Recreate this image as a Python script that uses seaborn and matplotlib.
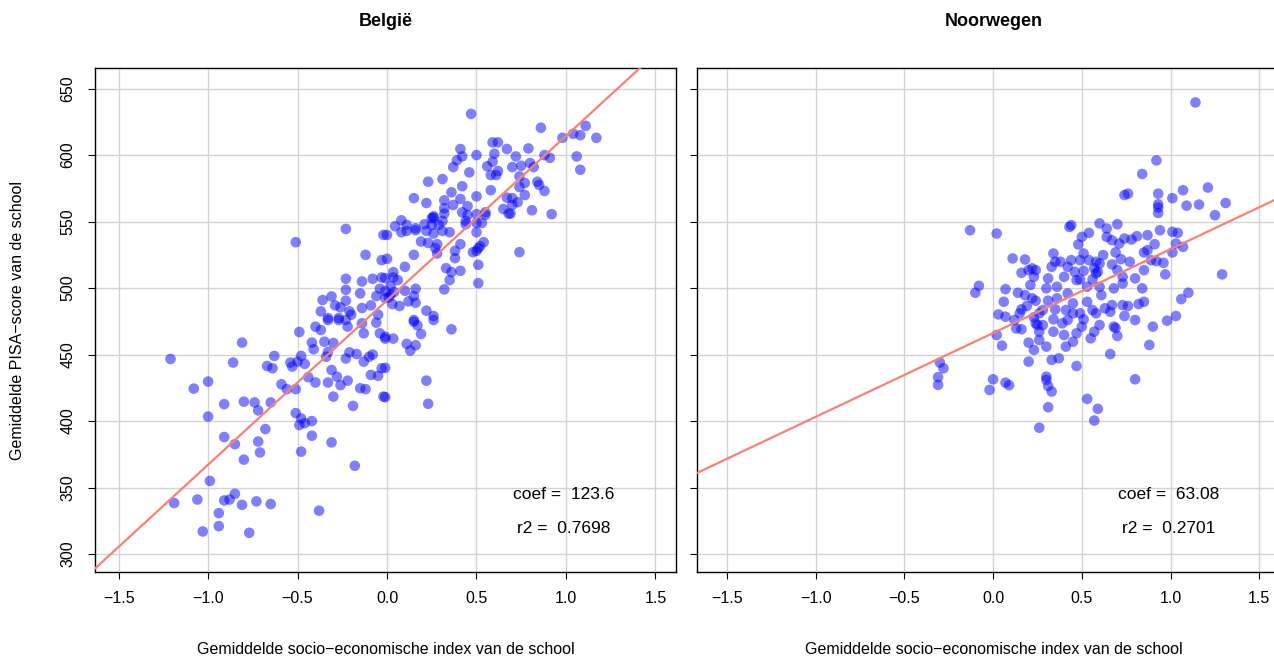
import numpy as np
import pandas as pd
import matplotlib
matplotlib.use("Agg")
import matplotlib.pyplot as plt
import seaborn as sns

# Belgium: school mean socio-economic index (x) and mean PISA score (y)
be_x = [0.47, 0.86, 0.98, 1.04, 1.08, 1.11, 1.17, 1.06, 1.08, 0.59, 0.62, 0.41, 0.39, 0.42, 0.37,
        0.50, 0.67, 0.79, 0.72, 0.60, 0.59, 0.56, 0.62, 0.58, 0.61, 0.70, 0.75, 0.80, 0.82, 0.88,
        0.91, 0.46, 0.74, 0.77, 0.74, 0.84, 0.85, 0.88, 0.77, 0.31, 0.23, 0.42, 0.36, 0.32, 0.15,
        0.22, 0.50, 0.58, 0.67, 0.70, 0.73, 0.70, 0.65, 0.68, 0.69, 0.81, 0.92, 0.37, 0.41, 0.45,
        0.42, 0.45, 0.32, 0.32, 0.26, 0.50, 0.55, 0.55, 0.53, 0.50, 0.50, 0.44, 0.44, 0.08, 0.045,
        0.11, 0.08, 0.11, 0.16, 0.16, 0.21, 0.25, 0.26, 0.25, 0.22, 0.26, 0.31, 0.35, 0.31, 0.29,
        0.00, 0.19, 0.23, 0.27, 0.28, 0.28, 0.41, 0.38, 0.38, 0.48, 0.51, 0.54, 0.52, 0.74, 0.51,
        0.50, 0.15, 0.10, 0.00, 0.33, 0.36, 0.35, 0.41, 0.51, 0.32, 0.035, 0.06, 0.035, -0.01, 0.02,
        0.10, 0.16, 0.15, 0.16, 0.12, 0.07, 0.03, -0.01, -0.01, 0.22, 0.26, 0.15, -0.01, 0.035,
        0.11, 0.16, 0.13, 0.19, 0.17, 0.15, 0.26, 0.36, -0.01, 0.22, -0.01, 0.23, -0.49, -0.81,
        -1.21, -0.86, -0.40, -0.37, -0.35, -0.30, -0.42, -0.41, -0.33, -0.34, -0.22, -0.23, -0.14,
        -0.13, -0.06, -0.04, -0.01, -0.33, -0.27, -0.63, -0.67, -0.64, -0.54, -0.53, -0.50, -0.48,
        -0.46, -0.44, -0.40, -0.33, -0.31, -0.28, -0.26, -0.22, -0.21, -0.17, -0.23, -0.13, -0.08,
        -0.10, -0.09, -0.05, -0.03, -0.15, -0.12, -0.02, -0.19, -0.30, -0.59, -0.56, -0.51, -1.08,
        -1.00, -0.91, -0.80, -0.74, -0.72, -0.65, -1.00, -0.51, -0.48, -0.49, -0.46, -0.42, -0.42,
        -0.48, -0.31, -0.18, -0.68, -0.72, -0.71, -0.91, -0.85, -0.80, -0.99, -1.19, -1.06, -0.91,
        -0.88, -0.85, -0.81, -0.73, -0.65, -0.38, -0.94, -0.94, -1.03, -0.77, -0.51, -0.23, -0.02,
        -0.12, -0.03, -0.23, -0.14, -0.08, -0.03, -0.23, -0.15, -0.06, -0.04, -0.36, -0.31, -0.29,
        -0.23, -0.26, -0.37, -0.21, -0.14, -0.09, -0.33, -0.27, -0.20, -0.05, 0.01, 0.02, 0.04]
be_y = [631, 620.6, 613, 616, 615, 622, 613, 599, 589, 609.6, 609.6, 604.6, 596, 599, 591,
        600, 604.6, 605, 599, 601, 595, 591.6, 588, 585, 585, 591, 592, 594, 591, 600,
        598, 587, 584, 579, 576, 580, 577.6, 573, 570, 582, 580, 576.6, 572, 566, 567.6,
        564, 569, 573.6, 568, 567.6, 564.6, 562.5, 559.5, 556, 556, 558.5, 555.6, 562.5, 567, 561.6,
        557, 555, 560, 556, 553, 555.6, 557, 555, 549, 549, 542, 550.4, 548, 551, 546.5,
        547.5, 542, 543, 545, 543.5, 548, 552.5, 554, 547.5, 543, 541, 543, 542, 550.5, 547.5,
        540, 535, 534, 530, 526, 533, 533, 528, 522.5, 527, 530, 534.5, 531.5, 527, 517.5,
        528, 525, 516, 522, 515, 512, 506, 513, 503.7, 499, 512, 506, 508, 507.5, 501.5,
        498, 499.5, 494, 489, 490, 486.5, 488, 497.7, 492.5, 483, 479, 476, 463.4, 462,
        458, 457, 453, 465.5, 472, 474.7, 476, 469, 440, 430.4, 418, 413, 467, 459,
        446.7, 444, 471, 468.5, 459.7, 458.7, 459, 454, 452, 448.4, 471, 476, 473.5,
        466, 474, 466, 462, 476, 476, 449, 441.4, 439.7, 444, 441, 444.7, 449,
        443, 433, 429, 429, 438.4, 433.4, 427, 430.4, 451.7, 450.4, 447, 444.7, 450,
        448.4, 434.7, 434, 439.7, 424.7, 424, 418.4, 411.4, 418.4, 427.7, 424, 424, 424.4,
        429.7, 412.7, 414.6, 414, 408, 414, 403.4, 406, 402, 397, 398.4, 400, 389,
        377, 384, 366.4, 394, 384.6, 376.4, 388, 382.6, 371, 355, 338.4, 341, 340.3,
        341, 345.3, 337, 339.6, 337.6, 332.6, 330.8, 321, 317, 316, 534.5, 544.5, 540,
        525, 521, 507, 505, 507, 508, 498.7, 496, 494, 499.5, 491, 493.7, 487,
        490.5, 485.5, 482.5, 482.5, 485, 487, 477.5, 477.5, 480, 480, 493, 495, 497]

# Norway
no_x = [1.14, 0.92, 0.84, 0.74, 0.76, 0.93, 1.01, 1.07, 1.21, 1.31, 1.25, 1.09, 1.16, 0.93, 0.93,
        0.93, -0.13, 0.02, 0.43, 0.44, 0.60, 0.64, 0.70, 0.54, 0.50, 0.48, 0.64, 0.67, 0.71, 0.74,
        0.78, 0.81, 0.87, 0.94, 1.01, 1.04, 0.91, 1.03, 1.07, 1.01, 0.85, 0.87, 0.69, 0.72, 0.77,
        0.89, 0.92, 0.96, 0.85, 0.97, 0.70, 0.67, 0.62, 0.60, 0.57, 0.58, 0.51, 0.49, 0.54, 0.44,
        0.42, 0.38, 0.34, 0.35, 0.33, 0.18, 0.11, 0.22, 0.20, 0.16, 0.24, 0.46, 0.51, 0.58, 1.29,
        0.80, 0.73, 0.23, 0.31, 0.40, 0.47, 0.49, 0.56, 0.59, -0.08, -0.10, 0.07, 0.06, 0.14,
        0.18, 0.22, 0.24, 0.19, 0.16, 0.15, 0.03, 0.07, 0.12, 0.13, 0.16, 0.02, 0.05, 0.20, 0.23,
        0.20, 0.26, 0.26, 0.30, 0.33, 0.37, 0.47, 0.24, 0.28, 0.34, 0.34, 0.39, 0.42, 0.40, 0.41,
        0.45, 0.47, 0.50, 0.55, 0.57, 0.60, 0.66, 0.68, 0.70, 0.69, 0.80, 0.74, 0.73, 0.76, 0.82,
        0.85, 0.84, 0.90, 0.88, 0.98, 1.03, 1.06, 1.10, 0.80, 0.67, 0.66, 0.61, 0.53, 0.56, 0.58,
        0.63, 0.49, 0.51, 0.45, 0.45, 0.41, 0.35, 0.36, 0.31, 0.28, 0.26, 0.23, 0.25, 0.42, 0.36,
        0.30, 0.21, 0.53, 0.60, 0.68, 0.73, -0.30, -0.28, -0.31, -0.31, 0.00, -0.02, 0.07, 0.09,
        0.30, 0.30, 0.31, 0.33, 0.31, 0.26, 0.53, 0.59, 0.57]
no_y = [639.6, 596, 585.8, 570, 571, 571, 567.6, 573.6, 575.6, 564, 554.8, 562, 562.8, 563, 560.6,
        556.5, 543.5, 541, 546, 547.3, 548.6, 544.8, 548, 541.5, 538.5, 532.8, 538.5, 536, 533.5, 537.3,
        536.5, 539, 539.8, 543.5, 542.3, 541.5, 533, 533.5, 531, 526.8, 526.8, 528.5, 526.8, 521.8, 519.8,
        521, 520.3, 519, 513.5, 510.3, 513.5, 517.8, 524.8, 518.5, 514.8, 519.8, 526, 521, 521, 521,
        516, 519.8, 526, 519.8, 516, 521.5, 522.3, 514.8, 513.5, 511.5, 513.5, 512.2, 513, 511, 510.3,
        507.3, 508.5, 508.5, 507.3, 508.5, 506, 506.5, 506.5, 512.2, 501.7, 496.5, 499.2, 489.7, 496.5,
        494.7, 492.3, 490.5, 486.5, 484, 481, 480.2, 478.5, 476, 469.7, 469, 464.7, 456.7, 459, 453.5,
        444.7, 461, 467.2, 456, 446, 447.2, 441.4, 473.5, 472.2, 467.2, 476.5, 473.5, 476, 464.7, 456,
        459.7, 466, 471, 462.2, 467.2, 472.2, 450.4, 471, 464, 470, 476, 479, 487.2, 486.5, 488,
        489.7, 499.8, 471, 457.2, 475.5, 479, 491.7, 496.5, 431.4, 487.2, 482.2, 494.7, 489.7, 483.5, 481,
        484.8, 481, 476.5, 488.5, 481, 483.5, 484, 492.3, 490.5, 483.5, 481, 478, 472.2, 496, 501,
        499.8, 502.3, 501, 501, 499.8, 503.5, 444, 439.7, 433, 427.2, 431.4, 423.4, 428.9, 427,
        433.4, 431, 426.4, 422.2, 410.4, 395, 416.7, 409.2, 400.4]

# Fitted regression lines
be_coef, be_icpt, be_r2 = 123.6, 490.8, 0.7698
no_coef, no_icpt, no_r2 = 63.08, 466.2, 0.2701

x_ticks = [-1.5, -1.0, -0.5, 0.0, 0.5, 1.0, 1.5]
y_ticks = [300, 350, 400, 450, 500, 550, 600, 650]

sns.set_theme(style="white")
plt.rcParams["font.family"] = ["Liberation Sans", "DejaVu Sans"]
plt.rcParams["axes.unicode_minus"] = True
plt.rcParams["text.color"] = "black"
plt.rcParams["axes.labelcolor"] = "black"
plt.rcParams["xtick.color"] = "black"
plt.rcParams["ytick.color"] = "black"

W, H = 1274, 657
fig = plt.figure(figsize=(W / 100, H / 100), dpi=100)

panels = [
    dict(title="België", x=be_x, y=be_y, coef=be_coef, icpt=be_icpt,
         rect=[95 / W, 1 - 572 / H, 581 / W, 504 / H], xlim=(-1.632, 1.615), labels=True,
         cx=(95 + 676) / 2 / W, coef_txt=f"coef =  {be_coef}", r2_txt=f"r2 =  {be_r2}"),
    dict(title="Noorwegen", x=no_x, y=no_y, coef=no_coef, icpt=no_icpt,
         rect=[697 / W, 1 - 572 / H, 581 / W, 504 / H], xlim=(-1.668, 1.605), labels=False,
         cx=(697 + 1290) / 2 / W, coef_txt=f"coef =  {no_coef}", r2_txt=f"r2 =  {no_r2}"),
]

for p in panels:
    ax = fig.add_axes(p["rect"])
    ax.set_xlim(*p["xlim"])
    ax.set_ylim(286.5, 665.5)
    ax.set_xticks(x_ticks)
    ax.set_yticks(y_ticks)
    ax.grid(True, color="#d3d3d3", linewidth=1.0)
    ax.set_axisbelow(True)

    df = pd.DataFrame({"x": p["x"], "y": p["y"]})
    sns.scatterplot(data=df, x="x", y="y", ax=ax, color="#0000ff", alpha=0.5,
                    s=58, edgecolor="none", zorder=3)

    lx = np.array(p["xlim"])
    line = pd.DataFrame({"x": lx, "y": p["icpt"] + p["coef"] * lx})
    sns.lineplot(data=line, x="x", y="y", ax=ax, color="#fa8072", linewidth=1.6, zorder=4)

    ax.set_xlabel("")
    ax.set_ylabel("")
    for s in ax.spines.values():
        s.set_visible(True)
        s.set_color("black")
        s.set_linewidth(1.0)
    ax.tick_params(axis="both", direction="out", length=5, width=0.8, color="black",
                   labelsize=11.5, labelcolor="black", bottom=True, left=True)
    ax.tick_params(axis="x", pad=9)
    ax.tick_params(axis="y", pad=9)
    if p["labels"]:
        for lab in ax.get_yticklabels():
            lab.set_rotation(90)
            lab.set_va("center")
    else:
        ax.set_yticklabels([])
    ax.set_xticklabels([f"{t:.1f}".replace("-", "\u2212") for t in x_ticks])

    fig.text(p["cx"], 1 - 22 / H, p["title"], ha="center", va="center",
             fontsize=13, fontweight="bold")
    fig.text(p["cx"], 1 - 650 / H, "Gemiddelde socio\u2212economische index van de school",
             ha="center", va="center", fontsize=11.5)

    ax.text(0.99, 345, p["coef_txt"], ha="center", va="center", fontsize=12.5)
    ax.text(0.99, 319.5, p["r2_txt"], ha="center", va="center", fontsize=12.5)

fig.text(18 / W, 1 - 320 / H, "Gemiddelde PISA\u2212score van de school", rotation=90,
         ha="center", va="center", fontsize=11.5)

fig.savefig("out.png", dpi=100)
